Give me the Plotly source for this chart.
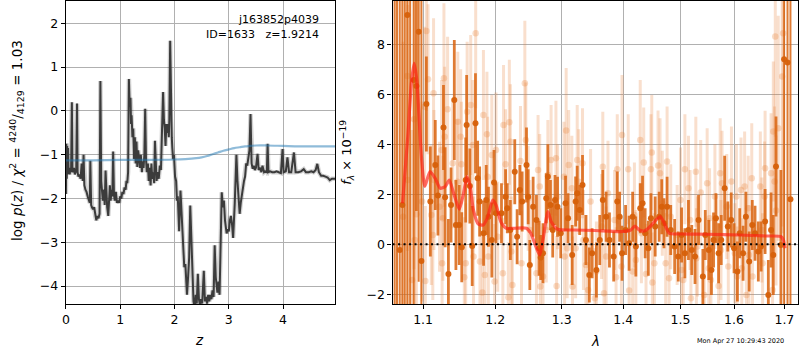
import math
import plotly.graph_objects as go

# ---------------- left panel: redshift probability ----------------
z_grid = [0.000, 0.008, 0.016, 0.024, 0.032, 0.040, 0.050, 0.060, 0.070, 0.080, 0.095, 0.110,
          0.120, 0.135, 0.150, 0.165, 0.190, 0.205, 0.215, 0.230, 0.250, 0.270, 0.290, 0.310,
          0.325, 0.340, 0.360, 0.380, 0.400, 0.420, 0.440, 0.450, 0.465, 0.480, 0.500, 0.520,
          0.540, 0.560, 0.580, 0.600, 0.620, 0.635, 0.650, 0.665, 0.680, 0.700, 0.715, 0.730,
          0.745, 0.760, 0.780, 0.795, 0.810, 0.825, 0.840, 0.855, 0.870, 0.885, 0.900, 0.920,
          0.940, 0.960, 0.980, 1.000, 1.020, 1.040, 1.060, 1.080, 1.100, 1.115, 1.130, 1.145,
          1.160, 1.175, 1.190, 1.200, 1.210, 1.225, 1.240, 1.255, 1.270, 1.285, 1.300, 1.315,
          1.330, 1.350, 1.365, 1.380, 1.400, 1.415, 1.430, 1.445, 1.460, 1.475, 1.490, 1.510,
          1.525, 1.540, 1.560, 1.575, 1.590, 1.610, 1.625, 1.640, 1.655, 1.670, 1.690, 1.710,
          1.730, 1.750, 1.770, 1.790, 1.805, 1.820, 1.835, 1.850, 1.865, 1.880, 1.895, 1.905,
          1.920, 1.935, 1.950, 1.960, 1.975, 1.990, 2.010, 2.030, 2.045, 2.060, 2.085, 2.110,
          2.130, 2.150, 2.165, 2.180, 2.200, 2.230, 2.250, 2.270, 2.290, 2.310, 2.330, 2.350,
          2.370, 2.390, 2.410, 2.430, 2.450, 2.470, 2.490, 2.510, 2.540, 2.560, 2.580, 2.600,
          2.620, 2.640, 2.660, 2.680, 2.700, 2.720, 2.740, 2.760, 2.790, 2.810, 2.830, 2.870,
          2.890, 2.910, 2.930, 2.960, 2.980, 3.000, 3.020, 3.040, 3.060, 3.080, 3.110, 3.140,
          3.160, 3.180, 3.200, 3.220, 3.240, 3.260, 3.280, 3.300, 3.320, 3.340, 3.360, 3.380,
          3.400, 3.420, 3.440, 3.460, 3.480, 3.500, 3.530, 3.550, 3.580, 3.600, 3.620, 3.650,
          3.670, 3.700, 3.715, 3.730, 3.760, 3.800, 3.840, 3.880, 3.920, 3.960, 3.990, 4.010,
          4.050, 4.080, 4.110, 4.150, 4.200, 4.230, 4.280, 4.330, 4.380, 4.420, 4.470, 4.520,
          4.560, 4.600, 4.630, 4.660, 4.700, 4.740, 4.780, 4.820, 4.860, 4.900, 4.960]
logp = [-1.90, -0.75, -1.55, -0.80, -1.45, -0.85, -1.40, -1.30, -1.45, -1.35, -1.40, 0.20,
        -1.35, -1.40, -1.30, -1.45, -1.35, 0.17, -1.40, -1.50, -1.45, -1.55, -1.20, -1.60,
        -1.00, -1.70, -1.80, -1.85, -1.95, -2.05, -2.10, -1.14, -2.15, -2.20, -2.25, -2.20,
        -2.40, -2.50, -2.40, -2.45, -2.35, 0.68, -1.60, -1.90, -2.05, -1.80, -2.15, -1.36,
        -2.00, -2.20, -2.40, -1.90, -1.70, -2.05, -1.80, -1.95, -0.93, -1.90, -2.05, -1.85,
        -2.10, -2.05, -2.10, -1.95, -2.00, -1.85, -1.90, -1.75, -1.80, -1.60, -1.65, -1.40,
        0.73, 0.10, 0.30, -0.30, -0.10, -0.60, -0.40, -1.10, -0.60, -1.20, -0.70, -1.28,
        -0.90, -1.10, -1.30, -1.00, -1.40, -1.15, -1.30, -1.00, 0.05, -1.10, -1.40, -1.20,
        -1.60, -1.30, -1.70, -1.20, -1.55, -1.40, -1.65, -0.68, -1.50, -1.60, -1.40, -1.55,
        -1.25, -1.35, -0.45, 0.43, -0.20, -0.40, -0.80, -0.30, -0.50, -0.30, -0.60, -0.20,
        1.60, -0.20, -0.60, -0.85, -1.10, -1.00, -1.50, -1.60, -2.05, -1.95, -2.75, -1.82,
        -2.40, -2.80, -3.20, -3.57, -3.50, -4.20, -3.80, -3.35, -2.16, -3.00, -3.80, -4.35,
        -4.50, -4.20, -4.40, -3.72, -4.30, -4.45, -4.30, -4.40, -3.65, -4.35, -4.25, -4.40,
        -4.20, -4.35, -4.20, -4.30, -4.10, -4.25, -3.07, -3.80, -4.15, -3.90, -4.20, -1.86,
        -2.20, -2.05, -2.50, -2.80, -2.70, -2.75, -2.50, -2.40, -2.60, -2.90, -2.10, -1.00,
        -1.60, -2.00, -2.35, -2.10, -1.90, -1.80, -1.60, -1.50, -1.20, -1.25, -1.00, -0.90,
        -0.07, -1.20, -1.32, -1.25, -1.35, -1.30, -0.98, -1.35, -1.30, -1.40, -1.25, -1.40,
        -1.38, -1.40, -0.75, -1.40, -1.38, -1.40, -1.40, -1.38, -1.40, -1.42, -0.87, -1.40,
        -1.38, -1.06, -1.40, -1.40, -0.95, -1.40, -1.40, -1.38, -1.33, -1.40, -1.40, -1.38,
        -1.40, -1.35, -1.21, -1.40, -1.48, -1.48, -1.50, -1.52, -1.58, -1.55, -1.55]

z_chi = [0.0, 0.5, 1.0, 1.5, 2.0, 2.2, 2.4, 2.5, 2.6, 2.7, 2.8, 2.9, 3.0, 3.1, 3.2, 3.3,
         3.4, 3.5, 3.7, 4.0, 4.3, 4.6, 4.96]
chi_curve = [-1.13, -1.13, -1.12, -1.12, -1.11, -1.10, -1.08, -1.06, -1.03, -0.99, -0.95,
             -0.91, -0.88, -0.85, -0.83, -0.81, -0.80, -0.79, -0.79, -0.80, -0.81, -0.81, -0.81]

z_ticks = [0, 1, 2, 3, 4]
logp_ticks = [-4, -3, -2, -1, 0, 1, 2]

# ---------------- right panel: 1D spectrum ----------------
# noisy blue-edge pixels (huge uncertainties)
lam_edge = [1.0630, 1.0660, 1.0695, 1.0729, 1.0760, 1.0794, 1.0830, 1.0877, 1.0942, 1.0978,
            1.6995, 1.7065, 1.7125]
flux_edge = [11.0, -4.0, -0.23, 1.57, 11.0, 9.17, -4.0, 6.57, 8.50, -0.67,
             7.40, 7.27, 1.80]
err_edge = [16, 16, 14, 14, 16, 14, 16, 12, 10, 12,
            10, 12, 14]

lam_dark = [1.0912,
            1.1044, 1.1097, 1.1163, 1.1199, 1.1274, 1.1296, 1.1341, 1.1377, 1.1422, 1.1444, 1.1489,
            1.1525, 1.1580, 1.1593, 1.1638, 1.1671, 1.1717, 1.1748, 1.1776, 1.1832, 1.1870, 1.1902,
            1.1950, 1.1982, 1.2010, 1.2090, 1.2150, 1.2175, 1.2220, 1.2285, 1.2320, 1.2360, 1.2395,
            1.2460, 1.2485, 1.2510, 1.2560, 1.2610, 1.2650, 1.2675, 1.2710, 1.2760, 1.2785, 1.2825,
            1.2860, 1.2895, 1.2935, 1.2985, 1.3060, 1.3100, 1.3165, 1.3220, 1.3245, 1.3285, 1.3330,
            1.3385, 1.3440, 1.3485, 1.3555, 1.3610, 1.3660, 1.3715, 1.3770, 1.3840, 1.3900, 1.3940,
            1.3980, 1.4040, 1.4100, 1.4160, 1.4215, 1.4290, 1.4330, 1.4375, 1.4430, 1.4475, 1.4550,
            1.4620, 1.4665, 1.4705, 1.4760, 1.4825, 1.4895, 1.4960, 1.5020, 1.5080, 1.5145, 1.5205,
            1.5265, 1.5330, 1.5410, 1.5455, 1.5520, 1.5570, 1.5610, 1.5655, 1.5705, 1.5755, 1.5820,
            1.5880, 1.5945, 1.6000, 1.6065, 1.6110, 1.6175, 1.6230, 1.6295, 1.6355, 1.6410, 1.6475,
            1.6530, 1.6610, 1.6675, 1.6730, 1.6775, 1.6830, 1.6930]
flux_dark = [6.33,
             5.61, 1.71, 3.17, 1.95, 4.67, 1.88, -1.19, 1.57, 5.77, 0.77, 0.77,
             -0.12, 2.57, 4.77, 2.33, -0.07, 4.84, 2.64, 1.71, 0.44, 1.77, 1.10,
             0.17, 2.47, 1.24, 1.24, 1.90, 1.44, 0.57, 2.90, 0.30, 2.17, 1.71,
             3.17, 1.90, -0.83, 1.50, 0.97, -0.16, -0.53, -0.36, 1.84, 2.70, 1.57,
             0.57, 1.77, 1.50, 0.44, 1.64, 1.04, -0.43, 1.71, 2.04, 1.37, 2.37,
             0.17, -1.23, -0.36, -1.03, 0.17, 1.77, 1.10, 0.17, -0.49, 1.71, 1.10,
             -0.36, 0.57, 0.04, 1.10, -0.09, 1.44, 1.64, 0.44, -0.16, 1.04, 0.71,
             1.10, 1.50, 0.84, 1.50, 0.57, -0.09, -0.49, 0.37, -0.36, 0.57, -0.23,
             -0.49, 0.97, -1.29, 0.37, -0.23, -1.03, 0.17, 1.04, -0.36, 0.17, 2.24,
             0.71, 0.97, -0.16, -1.09, 0.44, -0.36, 1.10, -0.69, 0.77, 0.44, -0.29,
             -0.09, 0.91, -2.03, 0.57, -0.43, 3.11, -0.03]
err_dark = [5,
            1.9, 2.2, 1.8, 1.6, 1.7, 2.0, 2.2, 1.5, 2.4, 1.8, 1.6,
            1.4, 1.7, 2.0, 1.5, 1.6, 2.0, 1.5, 1.4, 1.3, 1.4, 1.2,
            1.5, 1.3, 1.2, 1.2, 1.1, 1.0, 1.2, 1.3, 1.1, 1.0, 1.2,
            1.5, 1.1, 1.0, 1.2, 1.0, 1.1, 0.9, 1.2, 1.0, 1.3, 1.0,
            1.1, 1.0, 1.2, 1.0, 1.1, 1.0, 1.2, 1.0, 1.1, 1.0, 1.2,
            1.0, 1.1, 1.0, 1.1, 1.0, 1.2, 1.0, 1.1, 1.0, 1.2, 1.0,
            1.1, 1.0, 1.1, 1.0, 1.2, 1.0, 1.1, 1.0, 1.1, 1.0, 1.2,
            1.0, 1.1, 1.0, 1.2, 1.0, 1.1, 1.0, 1.1, 1.0, 1.2, 1.0,
            1.1, 1.0, 1.1, 1.0, 1.2, 1.0, 1.1, 1.0, 1.2, 1.0, 1.3,
            1.0, 1.1, 1.0, 1.2, 1.0, 1.1, 1.0, 1.2, 1.0, 1.1, 1.2,
            1.0, 1.3, 1.4, 1.5, 1.6, 2.0, 3.0]

lam_light = [1.0738, 1.0794, 1.0800, 1.0856, 1.0882, 1.0890, 1.0912, 1.0986, 1.1021, 1.1030,
             1.1044, 1.1066, 1.1110, 1.1130, 1.1140, 1.1145, 1.1220, 1.1248, 1.1255, 1.1266,
             1.1280, 1.1290, 1.1330, 1.1400, 1.1463, 1.1470, 1.1510, 1.1520, 1.1580, 1.1560,
             1.1600, 1.1650, 1.1680, 1.1690, 1.1720, 1.1780, 1.1830, 1.1815, 1.1850, 1.1880,
             1.1890, 1.1900, 1.1950, 1.1990, 1.2010, 1.2035, 1.2110, 1.2120, 1.2150, 1.2205,
             1.2190, 1.2220, 1.2235, 1.2250, 1.2370, 1.2385, 1.2435, 1.2450, 1.2485, 1.2510,
             1.2610, 1.2635, 1.2660, 1.2670, 1.2710, 1.2760, 1.2785, 1.2835, 1.2910, 1.2920,
             1.2935, 1.3035, 1.3045, 1.3070, 1.3085, 1.3110, 1.3160, 1.3170, 1.3220, 1.3245,
             1.3270, 1.3330, 1.3345, 1.3385, 1.3420, 1.3460, 1.3530, 1.3555, 1.3640, 1.3660,
             1.3680, 1.3715, 1.3745, 1.3855, 1.3880, 1.3900, 1.3970, 1.3980, 1.4085, 1.4100,
             1.4160, 1.4190, 1.4215, 1.4290, 1.4310, 1.4350, 1.4390, 1.4475, 1.4490, 1.4500,
             1.4535, 1.4600, 1.4635, 1.4675, 1.4735, 1.4760, 1.4795, 1.4825, 1.4940, 1.5000,
             1.5020, 1.5050, 1.5080, 1.5145, 1.5175, 1.5190, 1.5280, 1.5290, 1.5310, 1.5370,
             1.5435, 1.5490, 1.5520, 1.5535, 1.5560, 1.5635, 1.5705, 1.5735, 1.5750, 1.5770,
             1.5860, 1.5890, 1.5950, 1.6015, 1.6045, 1.6060, 1.6135, 1.6150, 1.6205, 1.6240,
             1.6275, 1.6290, 1.6345, 1.6360, 1.6515, 1.6545, 1.6560, 1.6600, 1.6610, 1.6730,
             1.6775, 1.6760, 1.6815, 1.6800, 1.6830, 1.6875, 1.6955, 1.6975]
flux_light = [1.10, 6.73, 2.57, -1.43, 5.00, 0.17, 1.20, 1.71, 5.50, -1.47,
              8.53, 6.60, 1.17, 0.37, 6.04, 2.57, 1.50, 3.77, -0.76, 1.04,
              6.64, 4.30, 5.40, 3.24, 2.50, 4.90, 4.30, 3.20, -0.76, -1.32,
              5.30, 5.57, 3.97, -0.49, 8.44, -0.69, 5.17, -1.93, -1.23, 4.40,
              2.70, -0.49, 3.57, -1.49, 3.77, 0.30, -1.16, 4.77, 3.20, 4.88,
              -2.12, 4.10, -0.29, -1.63, 3.33, -0.76, 6.44, 4.17, 1.84, 0.57,
              -1.16, 2.97, 2.31, -1.69, -1.29, 0.57, 2.77, 3.37, 3.44, -1.67,
              1.90, 2.70, -0.49, 4.55, -0.16, 3.17, 2.24, -1.69, -0.16, 3.37,
              2.50, 3.24, 0.17, -0.83, -1.83, 1.71, -2.16, -1.09, 0.71, 3.10,
              -1.96, -0.49, 2.04, 0.97, -1.32, 3.00, -0.89, 4.37, 3.00, -1.85,
              -1.09, 1.17, -0.63, 4.17, 0.44, 3.27, -1.19, 3.00, 3.67, -1.53,
              -0.76, 3.15, 2.84, 1.64, -0.76, 3.31, -1.36, 1.10, 0.37, 1.77,
              -1.03, -1.43, 3.00, 2.24, 0.97, -2.16, 2.90, -0.56, -0.09, 2.07,
              -2.03, 2.44, -0.96, 1.04, -1.43, 1.91, -1.67, 2.84, -0.23, 2.44,
              1.51, -0.89, 2.51, -0.36, 1.91, -1.29, 2.17, -0.96, 2.31, -2.03,
              1.44, -0.43, 2.64, -1.29, 2.31, 0.57, -0.76, 1.91, 3.04, 2.84,
              4.51, -1.83, 8.31, 2.51, 1.35, 4.64, 6.71, 8.44]
err_light = [7, 7, 7, 6, 6, 6, 5, 4, 3.2, 3.0,
             3.2, 3.0, 2.8, 2.6, 3.0, 2.8, 2.6, 2.8, 2.6, 2.5,
             3.0, 2.8, 2.9, 2.6, 2.5, 2.8, 2.7, 2.5, 2.4, 2.4,
             2.8, 2.8, 2.6, 2.4, 3.0, 2.3, 2.6, 2.4, 2.3, 2.5,
             2.4, 2.3, 2.4, 2.3, 2.3, 2.2, 2.2, 2.4, 2.2, 2.5,
             2.2, 2.3, 2.2, 2.1, 2.2, 2.1, 2.5, 2.3, 2.1, 2.0,
             2.1, 2.2, 2.1, 2.0, 2.0, 2.1, 2.2, 2.2, 2.3, 2.0,
             2.1, 2.2, 2.0, 2.5, 2.0, 2.2, 2.1, 2.0, 2.0, 2.2,
             2.1, 2.2, 2.0, 2.0, 2.0, 2.1, 2.0, 2.0, 2.1, 2.2,
             2.0, 2.0, 2.1, 2.0, 2.0, 2.2, 2.0, 2.4, 2.2, 2.0,
             2.0, 2.1, 2.0, 2.4, 2.0, 2.2, 2.0, 2.2, 2.3, 2.0,
             2.0, 2.2, 2.2, 2.1, 2.0, 2.2, 2.0, 2.1, 2.0, 2.1,
             2.0, 2.0, 2.2, 2.1, 2.0, 2.0, 2.2, 2.0, 2.0, 2.1,
             2.0, 2.2, 2.0, 2.0, 2.0, 2.1, 2.0, 2.2, 2.0, 2.1,
             2.1, 2.0, 2.2, 2.0, 2.1, 2.0, 2.1, 2.0, 2.2, 2.0,
             2.1, 2.0, 2.2, 2.0, 2.2, 2.1, 2.0, 2.2, 2.3, 2.4,
             2.8, 2.5, 4.0, 3.0, 3.0, 4.5, 6.0, 8.0]

lam_model = [1.0731, 1.0803, 1.0846, 1.0882, 1.0917, 1.0978, 1.1023, 1.1092, 1.1161, 1.1229,
             1.1298, 1.1353, 1.1413, 1.1491, 1.1550, 1.1596, 1.1642, 1.1688, 1.1757, 1.1826,
             1.1894, 1.1963, 1.2010, 1.2085, 1.2160, 1.2285, 1.2460, 1.2525, 1.2600, 1.2660,
             1.2710, 1.2785, 1.2835, 1.2935, 1.3200, 1.3524, 1.3984, 1.4128, 1.4198, 1.4273,
             1.4360, 1.4448, 1.4564, 1.4640, 1.4709, 1.4797, 1.5000, 1.5490, 1.6104, 1.6632,
             1.6928, 1.6980, 1.7013]
flux_model = [1.64, 4.44, 6.44, 7.24, 6.57, 3.51, 2.31, 2.91, 2.64, 2.24,
              2.31, 2.57, 2.04, 1.40, 2.04, 2.71, 2.31, 1.37, 0.81, 0.77,
              1.11, 1.77, 1.57, 0.87, 0.64, 0.64, 0.64, 0.44, -0.09, -0.43,
              0.17, 1.31, 0.91, 0.60, 0.57, 0.55, 0.51, 0.57, 0.73, 0.57,
              0.53, 0.68, 0.97, 1.11, 0.84, 0.44, 0.41, 0.40, 0.37, 0.33,
              0.31, 0.17, -0.16]

lam_ticks = [1.1, 1.2, 1.3, 1.4, 1.5, 1.6, 1.7]
flux_ticks = [-2, 0, 2, 4, 6, 8]
lam_range = [1.0603, 1.7288]


def fmt(v):
    s = f"{v:g}"
    return s.replace("-", "\u2212")


FONT = "DejaVu Sans"
W, H = 800, 350
LIGHT = "rgba(232,128,55,0.25)"
DARK_BAR = "rgba(217,100,15,0.85)"
DARK_DOT = "rgba(214,96,10,0.95)"

fig = go.Figure()

# left panel curves
fig.add_trace(go.Scatter(x=z_grid, y=logp, mode="lines", xaxis="x", yaxis="y",
                         line=dict(color="rgba(0,0,0,0.18)", width=4.5), hoverinfo="skip"))
fig.add_trace(go.Scatter(x=z_grid, y=logp, mode="lines", xaxis="x", yaxis="y",
                         line=dict(color="#3b3b3b", width=2)))
fig.add_trace(go.Scatter(x=z_chi, y=chi_curve, mode="lines", xaxis="x", yaxis="y",
                         line=dict(color="rgba(31,119,180,0.5)", width=2.2, shape="spline")))

# right panel: faint spectrum, binned spectrum, model and zero level
fig.add_trace(go.Scatter(
    x=lam_light, y=flux_light, mode="markers", xaxis="x2", yaxis="y2",
    marker=dict(color="rgba(232,128,55,0.28)", size=6.5, line=dict(width=0)),
    error_y=dict(type="data", array=err_light, visible=True, width=0, thickness=3,
                 color=LIGHT)))
fig.add_trace(go.Scatter(
    x=lam_edge, y=flux_edge, mode="markers", xaxis="x2", yaxis="y2",
    marker=dict(color=DARK_DOT, size=6, line=dict(width=0)),
    error_y=dict(type="data", array=err_edge, visible=True, width=0, thickness=2,
                 color=DARK_BAR)))
fig.add_trace(go.Scatter(
    x=lam_dark, y=flux_dark, mode="markers", xaxis="x2", yaxis="y2",
    marker=dict(color=DARK_DOT, size=6, line=dict(width=0)),
    error_y=dict(type="data", array=err_dark, visible=True, width=0, thickness=2.8,
                 color=DARK_BAR)))
fig.add_trace(go.Scatter(x=lam_model, y=flux_model, mode="lines", xaxis="x2", yaxis="y2",
                         line=dict(color="rgba(255,30,20,0.65)", width=3.2, shape="spline",
                                   smoothing=0.6)))
fig.add_trace(go.Scatter(x=lam_range, y=[0, 0], mode="lines", xaxis="x2", yaxis="y2",
                         line=dict(color="black", width=2, dash="2px,3.5px")))

axis_common = dict(showline=True, mirror=True, linecolor="black", linewidth=1.2,
                   ticks="outside", ticklen=4, tickcolor="black", tickwidth=1,
                   showgrid=True, gridcolor="#b0b0b0", gridwidth=1, zeroline=False,
                   tickfont=dict(family=FONT, size=12.5, color="black"))

fig.update_layout(
    width=W, height=H, margin=dict(l=0, r=0, t=0, b=0),
    paper_bgcolor="white", plot_bgcolor="white", showlegend=False,
    xaxis=dict(domain=[62.3 / W, 333.3 / W], range=[0, 4.96], anchor="y",
               tickvals=z_ticks, ticktext=[fmt(v) for v in z_ticks], **axis_common),
    yaxis=dict(domain=[(H - 304) / H, (H - 1) / H], range=[-4.41, 2.51], anchor="x",
               tickvals=logp_ticks, ticktext=[fmt(v) for v in logp_ticks], **axis_common),
    xaxis2=dict(domain=[391 / W, 799.3 / W], type="log",
                range=[math.log10(lam_range[0]), math.log10(lam_range[1])], anchor="y2",
                tickvals=lam_ticks, ticktext=[f"{v:.1f}" for v in lam_ticks], **axis_common),
    yaxis2=dict(domain=[(H - 304) / H, (H - 1) / H], range=[-2.39, 9.73], anchor="x2",
                tickvals=flux_ticks, ticktext=[fmt(v) for v in flux_ticks], **axis_common),
)

annotations = [
    dict(text="j163852p4039", x=318.5 / W, y=(H - 19.5) / H, xanchor="right", yanchor="middle",
         font=dict(family=FONT, size=11, color="black")),
    dict(text="ID=1633   z=1.9214", x=318.5 / W, y=(H - 34.5) / H, xanchor="right",
         yanchor="middle", font=dict(family=FONT, size=11, color="black")),
    dict(text="<i>z</i>", x=197 / W, y=(H - 340) / H, xanchor="center", yanchor="middle",
         font=dict(family=FONT, size=13.5, color="black")),
    dict(text="<i>λ</i>", x=595 / W, y=(H - 340.5) / H, xanchor="center", yanchor="middle",
         font=dict(family=FONT, size=13.5, color="black")),
    dict(text="log <i>p</i>(<i>z</i>) / <i>χ</i><sup>2</sup> = <sup>4240</sup>/<sub>4129</sub> = 1.03",
         x=13 / W, y=(H - 140) / H, xanchor="center", yanchor="middle", textangle=-90,
         font=dict(family=FONT, size=13.5, color="black")),
    dict(text="<i>f</i><sub><i>λ</i></sub> × 10<sup>−19</sup>",
         x=345 / W, y=(H - 152) / H, xanchor="center", yanchor="middle", textangle=-90,
         font=dict(family=FONT, size=13, color="black")),
    dict(text="Mon Apr 27 10:29:43 2020", x=741.5 / W, y=(H - 340.5) / H, xanchor="center",
         yanchor="middle", font=dict(family=FONT, size=6.5, color="black")),
]
for a in annotations:
    a.update(xref="paper", yref="paper", showarrow=False)
fig.update_layout(annotations=annotations)

fig.write_html("out.html")
